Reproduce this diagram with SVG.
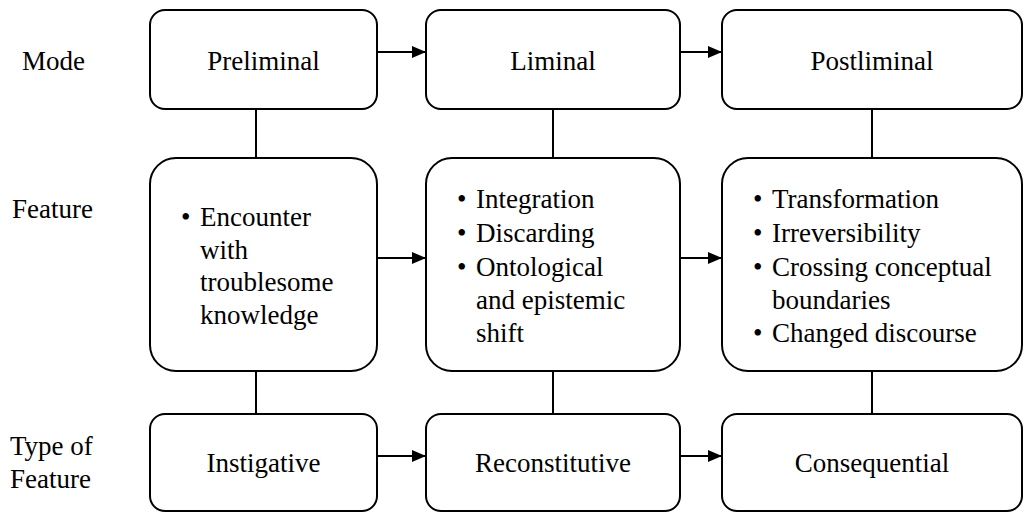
<svg xmlns="http://www.w3.org/2000/svg" width="1026" height="513" viewBox="0 0 1026 513">
<style>
.c{text-anchor:middle}
.box{fill:#fff;stroke:#000;stroke-width:2}
.ln{stroke:#000;stroke-width:2;fill:none}
</style>
<defs>
<marker id="ah" viewBox="0 0 14 12" refX="14" refY="6" markerWidth="14" markerHeight="12" markerUnits="userSpaceOnUse" orient="auto">
<path d="M0,0 L14,6 L0,12 Z" fill="#000"/>
</marker>
</defs>
<g font-family="Liberation Serif, DejaVu Serif, serif" font-size="27" fill="#000">
<g id="labels">
<text x="22" y="70">Mode</text>
<text x="12" y="218">Feature</text>
<text x="10" y="455">Type of</text>
<text x="10" y="488">Feature</text>
</g>
<g id="connectors">
<line class="ln" x1="256" y1="109" x2="256" y2="158"/>
<line class="ln" x1="553" y1="109" x2="553" y2="158"/>
<line class="ln" x1="872" y1="109" x2="872" y2="158"/>
<line class="ln" x1="256" y1="371" x2="256" y2="414"/>
<line class="ln" x1="553" y1="371" x2="553" y2="414"/>
<line class="ln" x1="872" y1="371" x2="872" y2="414"/>
<line class="ln" x1="377" y1="52" x2="426" y2="52" marker-end="url(#ah)"/>
<line class="ln" x1="680" y1="52" x2="722" y2="52" marker-end="url(#ah)"/>
<line class="ln" x1="377" y1="258" x2="426" y2="258" marker-end="url(#ah)"/>
<line class="ln" x1="680" y1="258" x2="722" y2="258" marker-end="url(#ah)"/>
<line class="ln" x1="377" y1="456" x2="426" y2="456" marker-end="url(#ah)"/>
<line class="ln" x1="680" y1="456" x2="722" y2="456" marker-end="url(#ah)"/>
</g>
<g id="preliminal">
<rect class="box" x="150" y="10" width="227" height="99" rx="15"/>
<text class="c" x="263.5" y="70">Preliminal</text>
</g>
<g id="liminal">
<rect class="box" x="426" y="10" width="254" height="99" rx="15"/>
<text class="c" x="553" y="70">Liminal</text>
</g>
<g id="postliminal">
<rect class="box" x="722" y="10" width="300" height="99" rx="15"/>
<text class="c" x="872" y="70">Postliminal</text>
</g>
<g id="feature-preliminal">
<rect class="box" x="150" y="158" width="227" height="213" rx="26"/>
<text x="181" y="226">•</text>
<text x="200" y="226">Encounter</text>
<text x="200" y="259">with</text>
<text x="200" y="291">troublesome</text>
<text x="200" y="324">knowledge</text>
</g>
<g id="feature-liminal">
<rect class="box" x="426" y="158" width="254" height="213" rx="26"/>
<text x="457" y="208">•</text>
<text x="476" y="208">Integration</text>
<text x="457" y="242">•</text>
<text x="476" y="242">Discarding</text>
<text x="457" y="276">•</text>
<text x="476" y="276">Ontological</text>
<text x="476" y="309">and epistemic</text>
<text x="476" y="342">shift</text>
</g>
<g id="feature-postliminal">
<rect class="box" x="722" y="158" width="300" height="213" rx="26"/>
<text x="753" y="208">•</text>
<text x="772" y="208">Transformation</text>
<text x="753" y="242">•</text>
<text x="772" y="242">Irreversibility</text>
<text x="753" y="276">•</text>
<text x="772" y="276">Crossing conceptual</text>
<text x="772" y="309">boundaries</text>
<text x="753" y="342">•</text>
<text x="772" y="342">Changed discourse</text>
</g>
<g id="instigative">
<rect class="box" x="150" y="414" width="227" height="97" rx="15"/>
<text class="c" x="263.5" y="472">Instigative</text>
</g>
<g id="reconstitutive">
<rect class="box" x="426" y="414" width="254" height="97" rx="15"/>
<text class="c" x="553" y="472">Reconstitutive</text>
</g>
<g id="consequential">
<rect class="box" x="722" y="414" width="300" height="97" rx="15"/>
<text class="c" x="872" y="472">Consequential</text>
</g>
</g>
</svg>
